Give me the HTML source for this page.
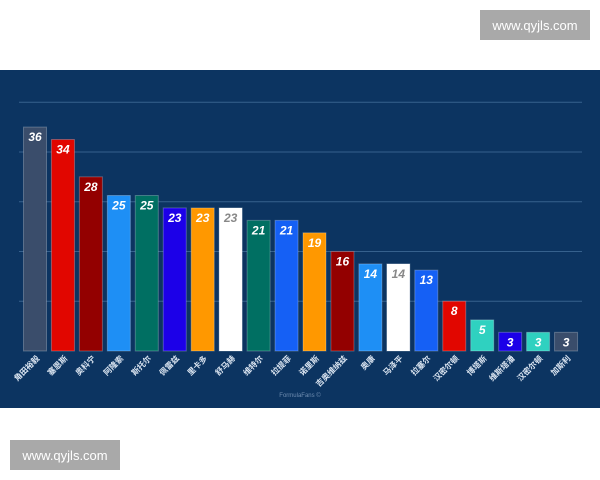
<!DOCTYPE html>
<html><head><meta charset="utf-8">
<style>
html,body{margin:0;padding:0;background:#fff;}
body{width:600px;height:480px;position:relative;overflow:hidden;font-family:"Liberation Sans","Noto Sans CJK SC",sans-serif;}
.wm{position:absolute;background:#a9a9a9;color:#fff;font-size:13px;display:flex;align-items:center;justify-content:center;}
</style></head><body>
<div class="wm" style="left:480px;top:10px;width:110px;height:30px;">www.qyjls.com</div>
<div class="wm" style="left:10px;top:440px;width:110px;height:30px;">www.qyjls.com</div>
<svg id="chart" width="600" height="340" style="position:absolute;left:0;top:70px;" xmlns="http://www.w3.org/2000/svg">
<rect x="0" y="0" width="600" height="338" fill="#0c3461"/>
<text x="300" y="327" fill="#6f8db0" font-size="6" text-anchor="middle">FormulaFans ©</text>
</svg>
<script>
const categories=["角田裕毅","塞恩斯","奥科宁","阿隆索","斯托尔","佩雷兹","里卡多","舒马赫","维特尔","拉提菲","诺里斯","吉奥维纳兹","奥康","马泽平","拉塞尔","汉密尔顿","博塔斯","维斯塔潘","汉密尔顿","加斯利"];
const values=[36,34,28,25,25,23,23,23,21,21,19,16,14,14,13,8,5,3,3,3];
const colors=["#3a4d6b","#e10600","#930000","#1e8ff5","#006f62","#1c00e8","#ff9800","#ffffff","#006f62","#1560f5","#ff9800","#930000","#1e8ff5","#ffffff","#1560f5","#e10600","#2fd1c0","#1c00e8","#2fd1c0","#3a4d6b"];
const ticks=[8,16,24,32,40];
const svg=document.getElementById('chart');
const NS='http://www.w3.org/2000/svg';
const baseY=281, pxPer=6.22, x0=35, step=27.95, bw=23;
const yS=v=>baseY-v*pxPer;
const xS=i=>x0+i*step;
ticks.forEach(t=>{
  const l=document.createElementNS(NS,'line');
  l.setAttribute('x1',19);l.setAttribute('x2',582);
  l.setAttribute('y1',yS(t));l.setAttribute('y2',yS(t));
  l.setAttribute('stroke','#36618d');l.setAttribute('stroke-width','1');
  
  
  svg.appendChild(l);
});
values.forEach((v,i)=>{
  const r=document.createElementNS(NS,'rect');
  r.setAttribute('x',xS(i)-bw/2);r.setAttribute('y',yS(v));
  r.setAttribute('width',bw);r.setAttribute('height',v*pxPer);
  r.setAttribute('fill',colors[i]);
  r.setAttribute('stroke','rgba(255,255,255,0.25)');
  
  
  svg.appendChild(r);
  const t=document.createElementNS(NS,'text');
  t.setAttribute('x',xS(i));t.setAttribute('y',yS(v)+14);
  t.setAttribute('text-anchor','middle');t.setAttribute('font-size','12');
  t.setAttribute('font-weight','bold');t.setAttribute('font-style','italic');
  t.setAttribute('fill',colors[i]==='#ffffff'?'#888':'#fff');
  t.textContent=v;
  
  
  svg.appendChild(t);
  const c=document.createElementNS(NS,'text');
  c.setAttribute('transform','translate('+(xS(i)+5)+','+(baseY+8)+') rotate(-45)');
  c.setAttribute('text-anchor','end');c.setAttribute('font-size','8');
  c.setAttribute('font-weight','bold');
  c.setAttribute('fill','#dce6f2');
  c.textContent=categories[i];
  
  
  svg.appendChild(c);
});
</script>
</body></html>
